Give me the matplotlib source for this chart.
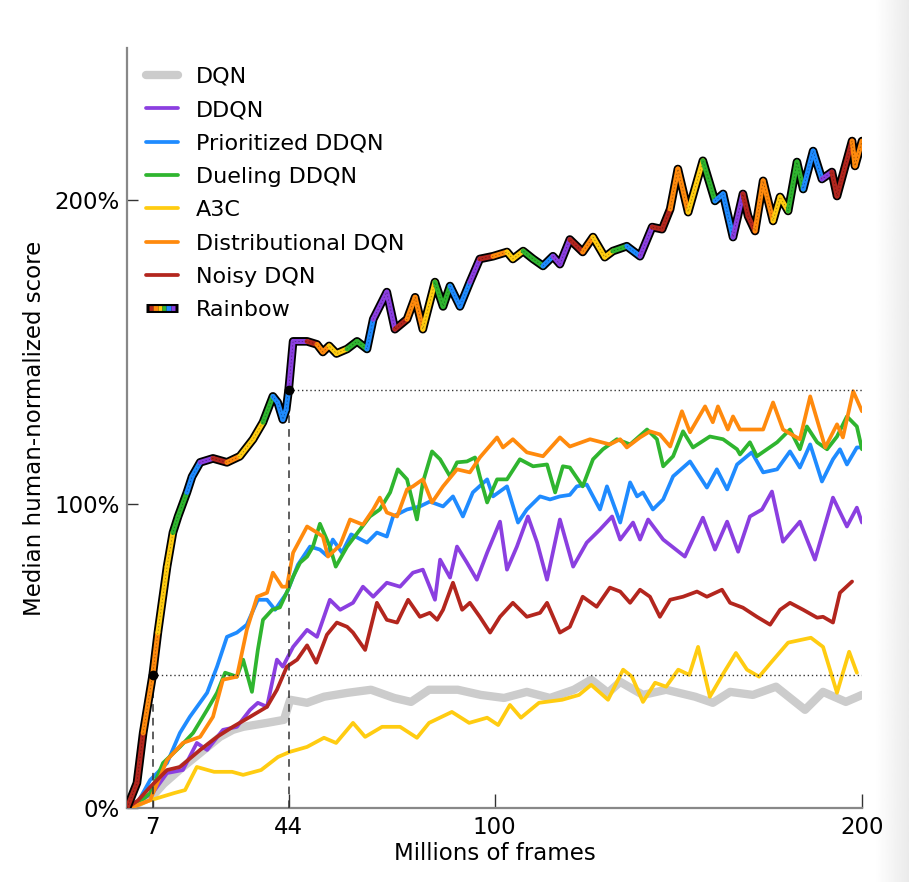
import numpy as np
import matplotlib
matplotlib.use("Agg")
import matplotlib.pyplot as plt
from matplotlib.collections import LineCollection
from matplotlib.legend_handler import HandlerBase
from matplotlib.lines import Line2D

# median human-normalized score (%) vs millions of frames
dqn_x = [0, 3, 7, 10, 15.2, 19.9, 25.3, 28.8, 31.6, 38.1, 42.7, 44.4, 49, 53.6, 60.1, 66.4, 72.7, 77.3, 82.2, 90,
         96.3, 102.6, 108.8, 115.1, 121.6, 126.3, 130.9, 134.2, 140.4, 146.7, 154.6, 159.4, 164.1, 170.3, 176.6,
         184.5, 189.4, 195.6, 200]
dqn_y = [0, 1.5, 4, 8, 13.5, 18.1, 23.4, 25.7, 26.7, 28, 29, 35.6, 34.6, 36.6, 37.9, 38.9, 36.2, 34.9, 38.9, 38.9,
         37.2, 36.2, 38.2, 36.2, 38.9, 42.2, 37.9, 41.5, 37.2, 38.9, 36.6, 34.6, 38.2, 37.2, 39.9,
         32.3, 38.2, 34.9, 37.2]

ddqn_x = [0, 3, 7, 10.9, 15.2, 19, 21.8, 26.1, 29.9, 33.5, 35.6, 38.1, 40.8, 42.4, 45.2, 49, 51.7, 55.2, 58, 61.5,
          64.2, 67, 70.7, 74.3, 77.8, 80.5, 83.8, 85.2, 87.9, 89.8, 92.5, 95.2, 98, 101.5, 103.4, 106.1, 109.1,
          111.6, 114.3, 117.8, 121.4, 125.1, 128.7, 132, 134.2, 137.7, 139.6, 141.8, 145.9, 151.8, 156.7, 160,
          163.3, 166.3, 169.5, 172.8, 175.5, 178.5, 183.1, 187.2, 192.1, 195.9, 198.6, 200]
ddqn_y = [0, 2, 5, 11.5, 12.5, 21.4, 19.1, 25.7, 26.7, 32.3, 34.6, 33.3, 48.8, 46.5, 53, 58.6, 56.3, 68.5, 65.2, 67.5,
          72.8, 69.5, 74.1, 72.8, 77.4, 78.4, 68.5, 81.7, 75.8, 86, 80.7, 75.1, 84, 94.2, 78.4, 86, 95.9,
          87.3, 75.1, 94.9, 79.4, 87.3, 91.6, 95.9, 88.3, 93.9, 88.3, 94.9, 88.3, 82.7, 95.5, 85,
          94.2, 84.3, 95.9, 98.2, 104.1, 87.6, 94.2, 81.7, 102.1, 92.6, 98.8, 93.9]

prio_x = [0, 3, 6.3, 10.9, 14.4, 17.1, 21.8, 24.5, 27.2, 29.9, 32.6, 35.6, 38.1, 40.3, 43.5, 46.5, 49.8, 52.5, 54.4,
          56, 58.5, 61, 65.3, 68, 70.7, 72.4, 76.2, 79.7, 82.4, 86, 88.7, 91.4, 94.1, 98, 99.6, 103.4, 106.4, 108.8,
          112.4, 115.1, 117.8, 120.5, 122.4, 125.1, 128.7, 130.6, 134.2, 136.9, 138.8, 140.4, 143.1, 145.9, 148.6,
          153.2, 157.8, 160.5, 163.3, 166, 170, 173.1, 176.9, 180.4, 183.1, 185.9, 189.1, 192.1, 194, 195.9,
          198.6, 200]
prio_y = [0, 2, 9.2, 14.8, 24.7, 30, 37.9, 46.5, 56.3, 57.7, 60.3, 68.5, 68.5, 65.2, 70.8, 80, 86, 85, 83,
          88.3, 84, 90, 87.3, 90.6, 89.3, 95.9, 98.2, 99.2, 100.8, 99.2, 102.5, 95.9, 103.8, 108.1, 102.5, 105.8, 93.9, 98.2,
          102.5, 101.5, 102.5, 103, 105.8, 106.4, 98.2, 105.8, 93.9, 107.1, 102.5, 103.8, 98.2, 101.5, 109.1,
          114, 105.4, 111.4, 104.8, 113, 117, 110.4, 111.4, 117.3, 112, 119.6, 107.4, 114.7, 118, 113,
          118.6, 118.6]

duel_x = [0, 3, 6.3, 9.8, 14.4, 18, 21.8, 24.5, 26.7, 29.9, 31.6, 34, 35.6, 37, 39.5, 41.6, 43.8, 45.2, 47.1, 49,
          50.6, 52.5, 55.2, 56.8, 59.9, 63.4, 66.1, 68.8, 71.6, 73.7, 76.2, 78.9, 80.5, 83, 85.2, 87.9, 89.8, 92.5,
          94.7, 96, 98, 100.7, 103.4, 106.9, 110.5, 114.3, 116.5, 118.6, 120.5, 124, 126.8, 129.5, 133.3, 136.9,
          141.5, 144.2, 145.9, 148.6, 151.3, 154, 158.6, 162.2, 166, 166.8, 169.5, 171.4, 176.9, 180.4, 183.1, 185,
          187.8, 190.5, 193.2, 195.9, 198.6, 200]
duel_y = [0, 1.5, 4.9, 14.8, 20.1, 24.7, 32.3, 37.9, 44.5, 43.2, 48.8, 38.2, 52, 61.9, 65.2, 66, 71.8, 76.1, 80.7, 82.7,
          86, 93.5, 86, 79.4, 86, 91.6, 95.9, 98.2, 103.8, 111.4, 108.1, 94.9, 107.1, 117.3, 114.7, 109.1, 113.7, 114,
          115.3, 109.1, 100.5, 108.1, 108.1, 114.7, 112.4, 113, 103.8, 112.4, 112, 105.8, 114.7, 118, 121.3, 119.6,
          124.5, 121.3, 112.4, 115.7, 123.9, 118.6, 122.2, 121.3, 118, 116.3, 120.3, 115.7, 120.3, 124.5, 118, 125.5,
          120.3, 118, 122.2, 128.8, 125.5, 118]

a3c_x = [0, 3, 6.5, 12.8, 15.8, 19, 23.7, 28.6, 31.6, 36.5, 41.1, 44.4, 49, 53.6, 56.9, 61.5, 64.8, 69.4, 74.3, 78.9,
         82.2, 88.4, 93.1, 98, 101, 104.2, 107.2, 112.1, 118.4, 123, 126.3, 130.9, 135, 137.4, 140.4, 143.7, 146.7,
         150, 153, 155.4, 158.6, 162.4, 165.7, 168.7, 172, 175.2, 179.9, 186.1, 189.4, 193.2, 196.5, 198.6]
a3c_y = [0, 1, 2.6, 4.9, 5.9, 13.5, 11.9, 11.9, 10.9, 12.5, 16.8, 18.5, 20.1, 23.1, 21.4, 28, 23.4, 26.7, 26.7, 23.1,
         28, 31.6, 28, 29.7, 27.3, 33.9, 29.7, 34.6, 35.6, 37.2, 40.5, 35.6, 45.5, 43.2, 34.9, 41.2, 39.9,
         45.5, 43.8, 53, 36.6, 44.5, 51, 45.5, 43.2, 47.8, 54.4, 56, 53, 37.9, 51.4, 44.5]

dist_x = [0, 3, 6.3, 10.9, 15.2, 19.9, 23.4, 26.1, 29.9, 32.6, 35.4, 38.1, 39.7, 42.2, 43.5, 45.2, 49, 51.7, 53.3,
          54.7, 58, 60.7, 64.2, 67, 68.8, 70.7, 73.5, 76.2, 77.8, 80.5, 83, 86, 89.8, 93.3, 96, 100.7, 102.3, 105,
          108.8, 113.2, 117.8, 120.5, 126, 131.4, 134.2, 136, 139.6, 142.3, 145, 147.8, 151, 153.2, 157.3, 159.4,
          160.8, 163.5, 164.9, 166.8, 170, 173.1, 175.8, 178.5, 183.1, 185.9, 190, 193.2, 194.8, 197.6, 200]
dist_y = [0, 1, 2.6, 15.8, 21.4, 23.4, 30, 42.2, 43.2, 58.6, 69.5, 70.8, 77.4, 72.8, 72.8, 84, 92.6, 90.6, 89.3,
          82.7, 86.5, 94.9, 93.2, 98.2, 102.1, 97.2, 95.9, 104.8, 105.8, 108.1, 100.5, 105.8, 111.4, 110.4, 115.3,
          121.9, 118.6, 121.3, 117, 115.7, 121.9, 118.9, 121.3, 119.6, 121.3, 118.6, 121.9, 123.9, 122.9, 118.9,
          130.5, 123.6, 132.1, 126.9, 132.1, 124.5, 128.8, 124.5, 124.5, 124.5, 133.4, 124.5, 121.3, 135.4, 118.6,
          126.2, 121.9, 137.1, 130.5]

noisy_x = [0, 3, 6.3, 10.9, 14.4, 19.9, 24.5, 28.8, 33.5, 38.1, 40.8, 43.5, 46.3, 49, 51.5, 54.4, 57.1, 59.9, 61.5,
           64.8, 68, 70.7, 73.5, 76.5, 79.7, 82.4, 84.4, 86, 88.7, 91.2, 93.3, 96, 98.8, 101.5, 105, 108.8, 112.4,
           114.3, 117.8, 120.5, 124, 127.8, 131.4, 134.2, 136.9, 139.6, 142.3, 145, 147.8, 151.3, 155.1, 157.8,
           161.9, 164.1, 167.6, 171.4, 175, 177.7, 180.4, 184, 187.8, 189.4, 192.1, 194, 197.3]
noisy_y = [0, 2.5, 6.9, 12.5, 13.5, 19.1, 23.4, 26.7, 30, 33.3, 38.9, 46.5, 48.8, 53.5, 47.8, 57, 61, 59.6, 57.7,
           52, 67.5, 61.9, 61, 68.5, 62.9, 64.2, 61.9, 65.2, 74.1, 65.2, 67.5, 62.9, 57.7, 62.9, 67.5, 62.9, 64.2,
           67.5, 57.7, 59.6, 69.5, 66.2, 72.5, 71.2, 67.5, 71.8, 69.5, 62.9, 68.5, 69.5, 71.2, 69.5,
           71.8, 67.5, 65.9, 62.9, 60.3, 65.2, 67.5, 65.2, 62.6, 62.9, 61, 70.8, 74.5]

rainbow_x = [0, 2.7, 4.4, 7, 8.4, 10.9, 12.5, 13.9, 16.3, 17.7, 19.9, 23.4, 27.2, 30.7, 34.3, 37, 39.7, 41, 42.4,
             43.3, 44, 45.2, 49, 51.7, 53.3, 55, 57, 59.9, 62.6, 65.3, 67, 70.7, 72.9, 76.2, 78.4, 80.5, 83.8, 86,
             87.9, 90.6, 93.3, 96, 99.6, 103.4, 105, 107.8, 110.5, 113.2, 115.9, 117.8, 120.5, 124, 126.8, 130,
             132.2, 136, 139.6, 142.9, 145.6, 147.8, 149.9, 152.7, 156.7, 160, 162.2, 164.9, 167.6, 169, 170.9,
             173.1, 175.8, 177.7, 179.9, 182.3, 184, 186.7, 189.1, 191.8, 193.2, 197.3, 198.1, 200]
rainbow_y = [0, 8.2, 24.7, 43.8, 57.7, 79.4, 90.6, 95.9, 103.8, 109, 113.7, 115, 113.7, 115.7, 121.3, 126.9, 135.4,
             133.4, 127.8, 131, 137.7, 153.5, 153.5, 152.5, 150, 152, 149.5, 151, 153.5, 151, 160.8, 169.7, 157.5,
             160.8, 168, 157.5, 173, 165, 171.7, 165, 173, 180.6, 181.5, 182.9, 180.6, 183.2, 180.6, 178.3, 181.5,
             178.9, 187, 182.9, 187.8, 181.2, 183.2, 184.8, 181.5, 191.1, 190.4, 197, 210.2, 196, 212.9, 199.7,
             202, 187.8, 202, 194.7, 189.8, 206.3, 193.1, 201, 196.4, 212.5, 203.6, 216.1, 206.9, 209.2, 201.3,
             219.4, 211.2, 219.4]

# frames at which Rainbow matches the DQN / best baseline final scores
match_x = [7, 44]
match_y = [43.8, 137.4]

labels = ["DQN", "DDQN", "Prioritized DDQN", "Dueling DDQN", "A3C", "Distributional DQN", "Noisy DQN", "Rainbow"]
colors = ["#cccccc", "#8b3fe0", "#1f8bff", "#2fb52f", "#ffcc11", "#ff8a0d", "#b3261e"]
rainbow_cycle = ["#b3261e", "#ff8a0d", "#ffcc11", "#2fb52f", "#1f8bff", "#8b3fe0"]


class RainbowHandler(HandlerBase):
    def create_artists(self, legend, orig, xd, yd, w, h, fontsize, trans):
        y = h / 2 - yd
        out = [Line2D([-xd, w - xd], [y, y], color="black", lw=6.5, solid_capstyle="butt", transform=trans)]
        n = len(rainbow_cycle)
        for i, c in enumerate(rainbow_cycle):
            x0 = -xd + 2 + (w - 4) * i / n
            x1 = -xd + 2 + (w - 4) * (i + 1) / n
            out.append(Line2D([x0, x1], [y, y], color=c, lw=3.5, solid_capstyle="butt", transform=trans))
        return out


plt.rcParams['font.family'] = ['DejaVu Sans']
fig = plt.figure(figsize=(9.09, 8.82), dpi=100)

# light grey fade at the right border of the screenshot
bg = fig.add_axes([875 / 909, 0, 34 / 909, 1], zorder=-5)
bg.imshow(np.linspace(1.0, 0.92, 50)[None, :], cmap="gray", vmin=0, vmax=1, aspect="auto")
bg.axis("off")

ax = fig.add_axes([127 / 909, 1 - 808 / 882, 735 / 909, 760 / 882])

series = [(dqn_x, dqn_y), (ddqn_x, ddqn_y), (prio_x, prio_y), (duel_x, duel_y),
          (a3c_x, a3c_y), (dist_x, dist_y), (noisy_x, noisy_y)]
handles = []
for (xs, ys), lab, col in zip(series, labels, colors):
    lw = 6 if lab == "DQN" else 2.7
    h, = ax.plot(xs, ys, color=col, lw=lw, label=lab, zorder=2 if lab == "DQN" else 3,
                 solid_joinstyle="round", solid_capstyle="round")
    handles.append(h)

# rainbow: black outline, coloured pieces cycling every 4M frames, thin dashed core
rx = np.array(rainbow_x)
ry = np.array(rainbow_y)
ax.plot(rx, ry, color="black", lw=6.2, zorder=5, solid_joinstyle="round", solid_capstyle="round")
segs = [[(rx[i], ry[i]), (rx[i + 1], ry[i + 1])] for i in range(len(rx) - 1)]
seg_cols = [rainbow_cycle[int(((rx[i] + rx[i + 1]) / 2) // 4) % 6] for i in range(len(rx) - 1)]
ax.add_collection(LineCollection(segs, colors=seg_cols, linewidths=3.6, zorder=6, capstyle="round",
                                 joinstyle="round"))
ax.plot(rx, ry, color="black", lw=0.5, ls=(0, (2, 3)), zorder=7, alpha=0.45)
rb = Line2D([], [], label="Rainbow")
handles.append(rb)

# match markers
for mx, my in zip(match_x, match_y):
    ax.plot([mx, mx], [0, my], color="#333333", lw=1.1, ls=(0, (5, 4)), zorder=4)
    ax.plot([mx, 200], [my, my], color="#333333", lw=1.0, ls=(0, (1, 2)), zorder=4)
ax.plot(match_x, match_y, "o", color="black", ms=6, zorder=8)

ax.set_xlim(0, 200)
ax.set_ylim(0, 250)
ax.set_xticks([7, 44, 100, 200])
ax.set_yticks([0, 100, 200])
ax.set_yticklabels(["0%", "100%", "200%"])
ax.tick_params(axis="x", direction="in", length=10, width=1, color="#333333", labelsize=16.5, pad=6)
ax.tick_params(axis="y", direction="in", length=8, width=1, color="#333333", labelsize=16.5, pad=5)
for s in ["top", "right"]:
    ax.spines[s].set_visible(False)
for s in ["left", "bottom"]:
    ax.spines[s].set_color("#888888")
    ax.spines[s].set_linewidth(1.6)

ax.set_xlabel("Millions of frames", fontsize=16.5, labelpad=2)
ax.set_ylabel("Median human-normalized score", fontsize=16.5, labelpad=6)

leg = ax.legend(handles=handles, labels=labels, loc="upper left", frameon=False, fontsize=16,
                handlelength=1.45, handletextpad=0.8, labelspacing=0.6, borderaxespad=0.45,
                handler_map={rb: RainbowHandler()})

fig.savefig("out.png", dpi=100)
